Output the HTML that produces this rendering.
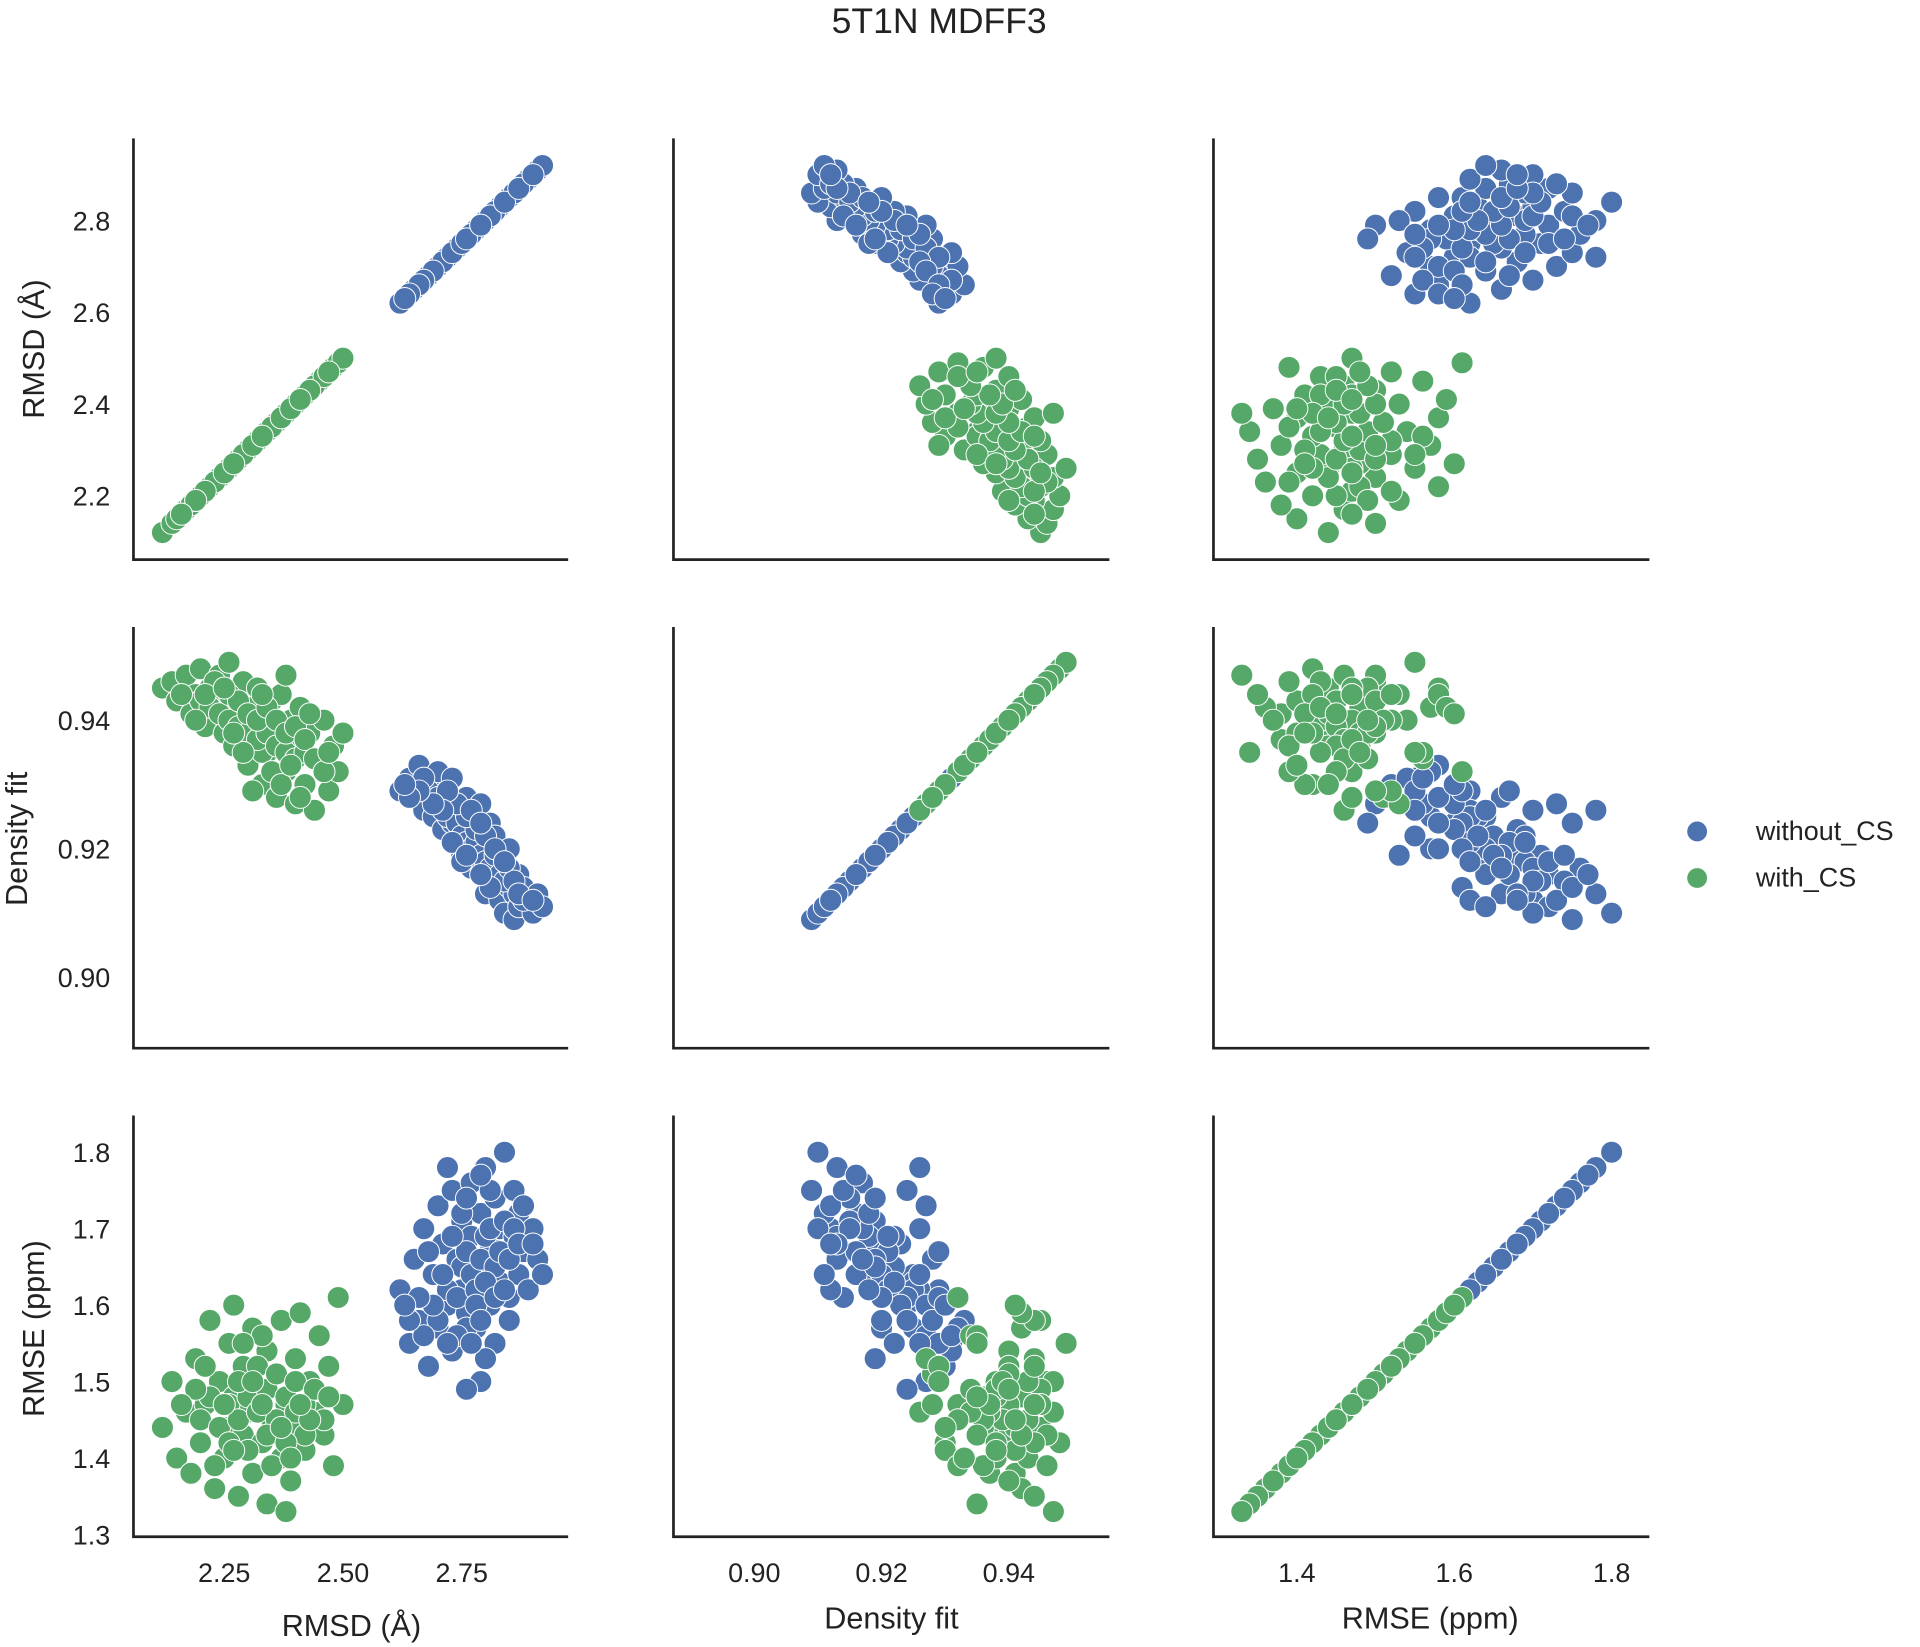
<!DOCTYPE html>
<html><head><meta charset="utf-8"><style>
html,body{margin:0;padding:0;background:#fff;}
svg{display:block;font-family:"Liberation Sans",sans-serif;}
</style></head><body>
<svg id="chart" width="1920" height="1647" viewBox="0 0 1568 1345" xmlns="http://www.w3.org/2000/svg">
<text x="767" y="27" font-size="29" text-anchor="middle" fill="#222">5T1N MDFF3</text>
<g id="panels"></g>
<g>
<circle cx="1386" cy="679" r="8.5" fill="#4c72b0" stroke="#fff" stroke-width="0.8"/>
<text x="1434" y="686" font-size="22" fill="#222">without_CS</text>
<circle cx="1386" cy="717" r="8.5" fill="#55a868" stroke="#fff" stroke-width="0.8"/>
<text x="1434" y="724" font-size="22" fill="#222">with_CS</text>
</g>
</svg>
<script>
const groups = ["without_CS", "with_CS"];
const colors = ["#4c72b0", "#55a868"];
const varNames = ["RMSD (Å)", "Density fit", "RMSE (ppm)"];
const withoutCS = [[2.62,0.929,1.62],[2.64,0.931,1.55],[2.65,0.928,1.66],[2.66,0.933,1.58],[2.67,0.926,1.70],[2.68,0.930,1.52],[2.69,0.925,1.64],[2.70,0.932,1.57],[2.70,0.927,1.73],[2.71,0.923,1.68],[2.72,0.929,1.60],[2.73,0.924,1.75],[2.73,0.931,1.54],[2.74,0.921,1.66],[2.75,0.926,1.62],[2.75,0.919,1.71],[2.76,0.928,1.59],[2.77,0.922,1.69],[2.77,0.917,1.76],[2.78,0.925,1.63],[2.78,0.920,1.57],[2.79,0.916,1.72],[2.79,0.927,1.50],[2.80,0.921,1.65],[2.80,0.913,1.78],[2.81,0.924,1.60],[2.81,0.918,1.68],[2.82,0.915,1.74],[2.82,0.922,1.55],[2.83,0.919,1.63],[2.83,0.912,1.70],[2.84,0.917,1.66],[2.84,0.910,1.80],[2.85,0.914,1.61],[2.85,0.920,1.58],[2.86,0.913,1.69],[2.86,0.909,1.75],[2.87,0.916,1.64],[2.87,0.911,1.72],[2.88,0.914,1.67],[2.89,0.912,1.62],[2.90,0.910,1.70],[2.91,0.913,1.66],[2.92,0.911,1.64],[2.76,0.924,1.49],[2.72,0.926,1.78],[2.80,0.919,1.53],[2.68,0.929,1.67],
[2.70,0.928,1.58],[2.72,0.925,1.62],[2.74,0.924,1.61],[2.75,0.922,1.65],[2.76,0.921,1.67],[2.77,0.920,1.64],[2.78,0.921,1.62],[2.79,0.919,1.66],[2.80,0.918,1.69],[2.81,0.917,1.70],[2.82,0.919,1.65],[2.83,0.916,1.67],[2.84,0.915,1.71],[2.78,0.923,1.60],[2.76,0.925,1.57],[2.74,0.927,1.56],[2.72,0.929,1.55],[2.80,0.922,1.63],[2.82,0.920,1.61],[2.85,0.917,1.66],[2.86,0.915,1.70],[2.88,0.912,1.73],[2.71,0.926,1.64],[2.73,0.921,1.69],[2.75,0.918,1.72],[2.77,0.926,1.55],[2.79,0.924,1.58],[2.81,0.914,1.75],[2.69,0.927,1.60],[2.67,0.931,1.56],[2.66,0.929,1.61],[2.64,0.928,1.58],[2.63,0.930,1.60],[2.84,0.918,1.62],[2.87,0.913,1.68],[2.90,0.912,1.68],[2.76,0.919,1.74],[2.79,0.916,1.77]];
const withCS = [[2.12,0.945,1.44],[2.14,0.946,1.50],[2.15,0.943,1.40],[2.17,0.947,1.46],[2.18,0.941,1.38],[2.19,0.944,1.53],[2.20,0.948,1.42],[2.21,0.939,1.47],[2.22,0.945,1.58],[2.23,0.942,1.36],[2.24,0.947,1.50],[2.25,0.938,1.44],[2.25,0.943,1.40],[2.26,0.949,1.55],[2.27,0.936,1.48],[2.28,0.944,1.35],[2.29,0.940,1.52],[2.29,0.946,1.43],[2.30,0.933,1.46],[2.31,0.942,1.57],[2.31,0.937,1.38],[2.32,0.945,1.49],[2.33,0.930,1.42],[2.34,0.940,1.54],[2.34,0.935,1.34],[2.35,0.943,1.45],[2.36,0.928,1.51],[2.37,0.938,1.40],[2.37,0.944,1.58],[2.38,0.932,1.47],[2.39,0.940,1.37],[2.40,0.927,1.53],[2.40,0.936,1.44],[2.41,0.942,1.59],[2.42,0.930,1.41],[2.43,0.938,1.50],[2.44,0.926,1.46],[2.45,0.934,1.56],[2.46,0.940,1.43],[2.47,0.929,1.52],[2.48,0.936,1.39],[2.49,0.932,1.61],[2.50,0.938,1.47],[2.38,0.947,1.33],[2.27,0.941,1.60],[2.33,0.935,1.56],
[2.20,0.943,1.45],[2.22,0.942,1.48],[2.24,0.941,1.44],[2.26,0.940,1.47],[2.28,0.939,1.45],[2.30,0.938,1.48],[2.32,0.937,1.46],[2.34,0.938,1.49],[2.36,0.936,1.45],[2.38,0.935,1.48],[2.40,0.934,1.46],[2.42,0.935,1.43],[2.26,0.944,1.42],[2.28,0.943,1.50],[2.30,0.941,1.41],[2.32,0.940,1.52],[2.34,0.942,1.43],[2.36,0.940,1.51],[2.38,0.938,1.42],[2.40,0.939,1.50],[2.42,0.937,1.47],[2.44,0.934,1.49],[2.46,0.932,1.45],[2.35,0.932,1.39],[2.29,0.935,1.55],[2.23,0.946,1.39],[2.21,0.944,1.52],[2.31,0.929,1.50],[2.37,0.930,1.44],[2.25,0.945,1.47],[2.27,0.938,1.41],[2.33,0.944,1.47],[2.39,0.933,1.40],[2.43,0.941,1.45],[2.47,0.935,1.48],[2.19,0.940,1.49],[2.16,0.944,1.47],[2.41,0.928,1.47]];
const xTicks = [[2.25,2.50,2.75],[0.90,0.92,0.94],[1.4,1.6,1.8]];
const xTickLabels = [["2.25","2.50","2.75"],["0.90","0.92","0.94"],["1.4","1.6","1.8"]];
const yTicks = [[2.2,2.4,2.6,2.8],[0.90,0.92,0.94],[1.3,1.4,1.5,1.6,1.7,1.8]];
const yTickLabels = [["2.2","2.4","2.6","2.8"],["0.90","0.92","0.94"],["1.3","1.4","1.5","1.6","1.7","1.8"]];
const xDomains = [[2.059,2.974],[0.8873,0.9558],[1.294,1.848]];
const yDomains = [[2.061,2.979],[0.889,0.9545],[1.297,1.848]];

const colX = [[109,464],[550,906],[991,1347]];
const rowY = [[113,457],[512,856],[911,1255]];
const NS = "http://www.w3.org/2000/svg";
const root = document.getElementById("panels");
function mk(tag, attrs, parent){const e=document.createElementNS(NS,tag);for(const k in attrs)e.setAttribute(k,attrs[k]);parent.appendChild(e);return e;}
function xScale(c,v){const d=xDomains[c],p=colX[c];return p[0]+(v-d[0])/(d[1]-d[0])*(p[1]-p[0]);}
function yScale(r,v){const d=yDomains[r],p=rowY[r];return p[1]-(v-d[0])/(d[1]-d[0])*(p[1]-p[0]);}
const data = [withoutCS, withCS];
for(let r=0;r<3;r++){for(let c=0;c<3;c++){
  const g=mk("g",{},root);
  
  
  for(let gi=0;gi<2;gi++){
    for(const p of data[gi]){
      const ci=mk("circle",{cx:xScale(c,p[c]),cy:yScale(r,p[r]),r:9,fill:colors[gi],stroke:"#fff","stroke-width":0.8},g);
      
      
    }
  }
  const ax=mk("path",{d:`M${colX[c][0]},${rowY[r][0]}V${rowY[r][1]}H${colX[c][1]}`,fill:"none",stroke:"#222","stroke-width":2.2},g);
  
  
  if(c===0){
    yTicks[r].forEach((t,i)=>{
      const tx=mk("text",{x:90,y:yScale(r,t)+8,"font-size":22,"text-anchor":"end",fill:"#222"},g);
      tx.textContent=yTickLabels[r][i];
      
      
    });
  }
  if(r===2){
    xTicks[c].forEach((t,i)=>{
      const tx=mk("text",{x:xScale(c,t),y:1292,"font-size":22,"text-anchor":"middle",fill:"#222"},g);
      tx.textContent=xTickLabels[c][i];
      
      
    });
  }
}}
const yLabPos=[[36,285],[22,685],[36,1085]];
yLabPos.forEach((p,i)=>{
  const t=mk("text",{x:p[0],y:p[1],"font-size":25,"text-anchor":"middle",fill:"#222",transform:`rotate(-90 ${p[0]} ${p[1]})`},root);
  t.textContent=varNames[i];
  
  
});
const xLabPos=[[287,1336],[728,1330],[1168,1330]];
xLabPos.forEach((p,i)=>{
  const t=mk("text",{x:p[0],y:p[1],"font-size":25,"text-anchor":"middle",fill:"#222"},root);
  t.textContent=varNames[i];
  
  
});
</script>
</body></html>
